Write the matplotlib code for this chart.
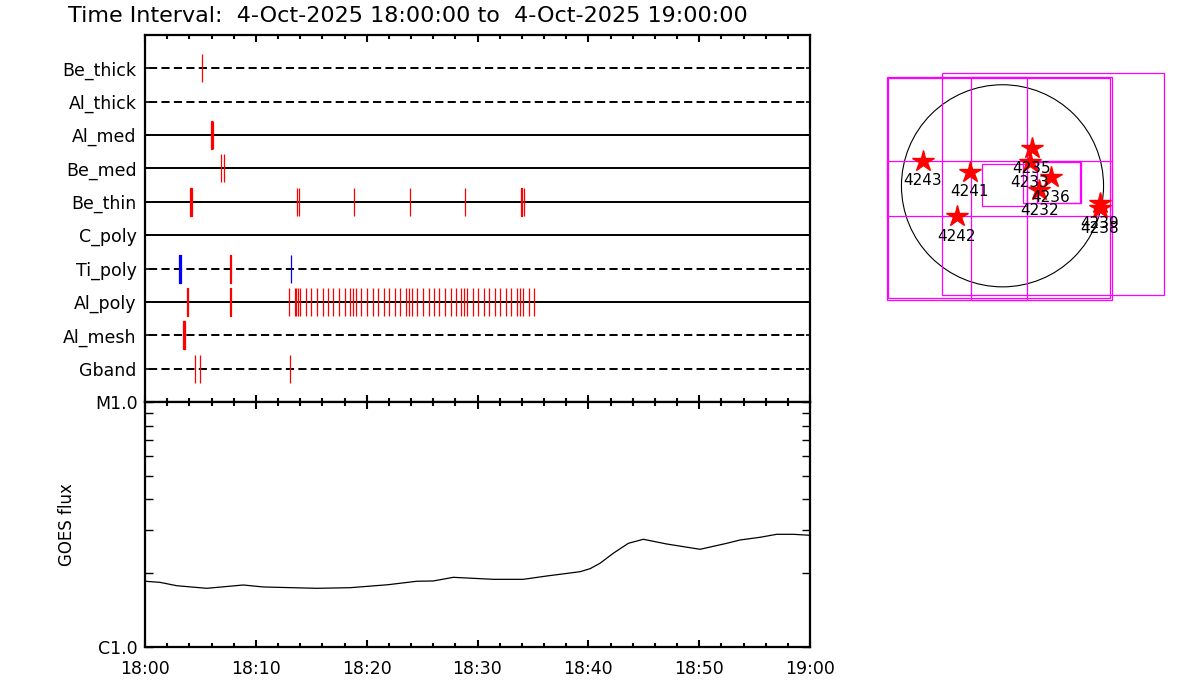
import numpy as np
import matplotlib.pyplot as plt
from matplotlib.patches import Rectangle, Circle
from matplotlib.ticker import FixedLocator, MultipleLocator, NullFormatter

# filter channels, top to bottom
channels = ['Be_thick', 'Al_thick', 'Al_med', 'Be_med', 'Be_thin',
            'C_poly', 'Ti_poly', 'Al_poly', 'Al_mesh', 'Gband']
dashed = [True, True, False, False, False, False, True, False, True, True]

# exposures, minutes after 18:00, (start, end)
al_poly_thin = [13.02, 13.56, 13.65, 13.83, 14.02, 14.56, 15.01, 15.55, 16.09,
                16.54, 16.99, 17.53, 18.07, 18.53, 18.80, 19.07, 19.52, 20.06,
                20.60, 21.05, 21.59, 22.05, 22.59, 23.04, 23.58, 23.85, 24.12,
                24.57, 25.11, 25.65, 26.10, 26.55, 27.10, 27.64, 28.09, 28.54,
                28.81, 29.08, 29.62, 30.08, 30.62, 31.07, 31.61, 32.06, 32.60,
                33.05, 33.59, 33.86, 34.14, 34.68, 35.13]
red_events = {
    'Be_thick': [(5.17, 5.17)],
    'Al_med': [(5.91, 6.00), (6.14, 6.14)],
    'Be_med': [(6.82, 6.90), (7.15, 7.15)],
    'Be_thin': [(4.10, 4.26), (13.75, 13.75), (13.93, 13.93), (18.9, 18.9),
                (23.9, 23.9), (28.9, 28.9), (33.96, 34.04), (34.22, 34.22)],
    'Ti_poly': [(7.71, 7.78)],
    'Al_poly': [(3.75, 3.92), (7.71, 7.78)] + [(t, t) for t in al_poly_thin],
    'Al_mesh': [(3.39, 3.62)],
    'Gband': [(4.54, 4.54), (4.99, 4.99), (13.11, 13.11)],
}
blue_events = {
    'Ti_poly': [(3.03, 3.26), (13.2, 13.2)],
}

# GOES flux (W/m^2)
goes_t = [0, 1.35, 2.86, 5.57, 8.87, 10.67, 15.49, 18.5, 21.95, 24.52, 26.01,
          27.82, 29.62, 31.43, 34.13, 36.25, 39.25, 40.15, 41.05, 42.25, 43.61,
          44.96, 47.07, 50.08, 52.49, 53.69, 55.49, 57.0, 58.5, 60]
goes_flux = [1.855, 1.836, 1.779, 1.736, 1.791, 1.758, 1.736, 1.746, 1.796,
             1.855, 1.860, 1.925, 1.907, 1.889, 1.889, 1.949, 2.029, 2.087,
             2.196, 2.413, 2.650, 2.752, 2.633, 2.505, 2.650, 2.734, 2.804,
             2.884, 2.884, 2.857]
goes_flux = [f * 1e-6 for f in goes_flux]

time_ticks = [0, 10, 20, 30, 40, 50, 60]
time_labels = ['18:00', '18:10', '18:20', '18:30', '18:40', '18:50', '19:00']

# active regions on the disk (arcsec)
ar_nums = ['4243', '4241', '4242', '4235', '4233', '4236', '4232', '4239', '4238']
ar_x = [-756, -309, -435, 277, 261, 461, 350, 926, 926]
ar_y = [238, 134, -287, 356, 223, 81, -40, -166, -214]
# fields of view (x0, x1, y0, y1)
fov_boxes = [(-1099, 1037, -1085, 1031), (-1090, 1021, -1069, 1021),
             (-572, 1537, -1037, 1069), (-302, 230, -1085, 1031),
             (-1099, 1037, -287, 239), (-198, 230, -192, 207),
             (198, 736, -161, 239), (325, 746, -166, 229)]

plt.rcParams['font.family'] = 'DejaVu Sans'
fig = plt.figure(figsize=(12, 7), dpi=100)

# title
fig.text(68/1200, 1 - 16/700,
         'Time Interval:  4-Oct-2025 18:00:00 to  4-Oct-2025 19:00:00',
         fontsize=16, va='center', ha='left')

# upper panel: exposures
ax = fig.add_axes([145/1200, 1-402/700, 665/1200, 367/700])
n = len(channels)
for i, ch in enumerate(channels):
    y = n - i
    if dashed[i]:
        ax.plot([0.4, 59.6], [y, y], color='k', lw=1.4, ls=(0, (4.2, 2.2)))
    else:
        ax.plot([0, 60], [y, y], color='k', lw=1.4)
    for evs, c in ((red_events, 'red'), (blue_events, 'blue')):
        for s, e in evs.get(ch, []):
            ax.broken_barh([(s, e - s)], (y - 0.42, 0.84), facecolors=c,
                           edgecolors=c, linewidth=0.9, zorder=3)
ax.set_xlim(0, 60)
ax.set_ylim(0, n + 1)
ax.set_yticks(range(n, 0, -1))
ax.set_yticklabels(channels, fontsize=12.5)
ax.tick_params(axis='y', direction='in', length=3, width=1.2, right=True, pad=6)
ax.xaxis.set_major_locator(FixedLocator(time_ticks))
ax.xaxis.set_minor_locator(MultipleLocator(2))
ax.xaxis.set_major_formatter(NullFormatter())
ax.tick_params(axis='x', which='major', direction='in', length=5, width=1.5,
               top=True)
ax.tick_params(axis='x', which='minor', direction='in', length=3, width=1.5,
               top=True)
for sp in ax.spines.values():
    sp.set_linewidth(1.6)

# lower panel: GOES
ax2 = fig.add_axes([145/1200, 1-647/700, 665/1200, 245/700])
ax2.plot(goes_t, goes_flux, color='k', lw=0.9)
ax2.set_yscale('log')
ax2.set_ylim(1e-6, 1e-5)
ax2.set_xlim(0, 60)
ax2.set_yticks([1e-6, 1e-5])
ax2.set_yticklabels(['C1.0', 'M1.0'], fontsize=12.5)
ax2.yaxis.set_minor_locator(FixedLocator([k * 1e-6 for k in range(2, 10)]))
ax2.yaxis.set_minor_formatter(NullFormatter())
ax2.tick_params(axis='y', which='both', direction='in', length=6, width=1.0,
                right=True, pad=5)
ax2.set_xticks(time_ticks)
ax2.set_xticklabels(time_labels, fontsize=12.5)
ax2.xaxis.set_minor_locator(MultipleLocator(2))
ax2.tick_params(axis='x', which='major', direction='in', length=5, width=1.5,
                top=True, pad=9)
ax2.tick_params(axis='x', which='minor', direction='in', length=3, width=1.5,
                top=True)
ax2.set_ylabel('GOES flux', fontsize=12, labelpad=14)
for sp in ax2.spines.values():
    sp.set_linewidth(1.6)

# solar disk with FOVs and active regions
ax3 = fig.add_axes([880/1200, 1-305/700, 290/1200, 240/700])
ax3.set_xlim(-1163.75, 1591.25)
ax3.set_ylim(-1132.4, 1147.6)
ax3.axis('off')
ax3.add_patch(Circle((0, 0), 960, fill=False, color='k', lw=0.8))
for x0, x1, y0, y1 in fov_boxes:
    ax3.add_patch(Rectangle((x0, y0), x1 - x0, y1 - y0, fill=False,
                            edgecolor='#ff00ff', lw=0.9))
ax3.plot(ar_x, ar_y, ls='none', marker='*', ms=16, color='red', mec='red')
for name, x, y in zip(ar_nums, ar_x, ar_y):
    ax3.text(x, y - 190, name, fontsize=11, ha='center', va='center')

fig.savefig('out.png', dpi=100)
